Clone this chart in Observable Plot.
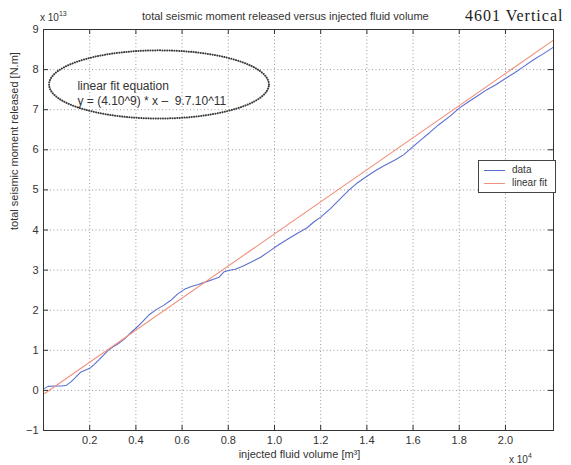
<!DOCTYPE html>
<html>
<head>
<meta charset="utf-8">
<script src="https://cdn.jsdelivr.net/npm/d3@7"></script>
<script src="https://cdn.jsdelivr.net/npm/@observablehq/plot@0.6"></script>
<style>
  html, body { margin: 0; padding: 0; background: #fff; }
  #fig { position: relative; width: 571px; height: 465px; font-family: "Liberation Sans", Arial, sans-serif; color: #333; }
  #fig svg { position: absolute; left: 0; top: 0; }
  .note { position: absolute; white-space: nowrap; line-height: 1; }
  .note sup { font-size: 7px; vertical-align: 5px; }
  #legend { position: absolute; z-index: 2; left: 478px; top: 160px; width: 76px; height: 31px; border: 1px solid #444; background: #fff; font-size: 10px; }
  #legend .row { position: absolute; left: 5px; height: 12px; line-height: 12px; }
  #legend .swatch { display: inline-block; width: 21px; height: 0; border-top: 1px solid; vertical-align: middle; margin-right: 7px; }
</style>
</head>
<body>
<div id="fig">
  <div class="note" style="left:142px; top:11px; font-size:11px;">total seismic moment released versus injected fluid volume</div>
  <div class="note" style="left:465px; top:8px; font-family:'Liberation Serif','Times New Roman',serif; font-size:16px; letter-spacing:1px; color:#222;">4601 Vertical</div>
  <div class="note" style="left:40px; top:10px; font-size:10px;">x 10<sup>13</sup></div>
  <div class="note" style="left:509px; top:452px; font-size:10px;">x 10<sup>4</sup></div>
  <div id="legend"></div>
</div>
<script>
// Injected fluid volume (x 10^4 m^3) and cumulative seismic moment (x 10^13 N.m)
const volume = [0.005, 0.02, 0.05, 0.08, 0.10, 0.12, 0.14, 0.16, 0.18, 0.20,
  0.22, 0.24, 0.26, 0.28, 0.30, 0.32, 0.35, 0.38, 0.40, 0.43,
  0.46, 0.49, 0.52, 0.55, 0.58, 0.61, 0.64, 0.67, 0.70, 0.73,
  0.76, 0.78, 0.80, 0.83, 0.86, 0.90, 0.94, 0.98, 1.02, 1.06,
  1.10, 1.14, 1.17, 1.20, 1.24, 1.28, 1.32, 1.36, 1.40, 1.44,
  1.48, 1.52, 1.56, 1.60, 1.63, 1.67, 1.71, 1.76, 1.80, 1.84,
  1.88, 1.92, 1.96, 2.00, 2.04, 2.08, 2.12, 2.16, 2.20, 2.208];
const moment = [0.05, 0.10, 0.11, 0.11, 0.13, 0.22, 0.33, 0.45, 0.50, 0.55,
  0.65, 0.76, 0.88, 1.00, 1.08, 1.15, 1.28, 1.45, 1.55, 1.72,
  1.90, 2.02, 2.12, 2.24, 2.40, 2.52, 2.59, 2.64, 2.70, 2.76,
  2.82, 2.95, 2.99, 3.02, 3.09, 3.20, 3.32, 3.48, 3.64, 3.78,
  3.92, 4.05, 4.20, 4.32, 4.52, 4.75, 4.98, 5.18, 5.34, 5.49,
  5.62, 5.74, 5.88, 6.08, 6.23, 6.42, 6.62, 6.84, 7.04, 7.20,
  7.35, 7.50, 7.63, 7.78, 7.92, 8.08, 8.24, 8.38, 8.53, 8.56];

// Linear fit: y = 4*10^9 * x - 9.7*10^11 (x in m^3, y in N.m)
const fitSlope = 4e9;
const fitIntercept = -9.7e11;
const volumeUnit = 1e4;
const momentUnit = 1e13;

const xTicks = [0.2, 0.4, 0.6, 0.8, 1, 1.2, 1.4, 1.6, 1.8, 2];
const yTicks = [-1, 0, 1, 2, 3, 4, 5, 6, 7, 8, 9];
const xDomain = [0, 2.208];
const yDomain = [-1, 9];

const equationLines = ["linear fit equation", "y = (4.10^9) * x \u2013  9.7.10^11"];
const seriesNames = ["data", "linear fit"];
const seriesColors = ["#5b6fd0", "#f2907c"];

const data = volume.map((v, i) => ({v, m: moment[i]}));
const fitAt = v => (fitSlope * v * volumeUnit + fitIntercept) / momentUnit;
const fit = [volume[0], volume[volume.length - 1]].map(v => ({v, m: fitAt(v)}));

// dotted ellipse around the equation, in data units
const ell = {cx: 0.50, cy: 7.63, rx: 0.476, ry: 0.85};
const ellipse = d3.range(0, 361, 3).map(a => ({
  v: ell.cx + ell.rx * Math.cos(a * Math.PI / 180),
  m: ell.cy + ell.ry * Math.sin(a * Math.PI / 180)
}));

const W = 571, H = 465, mL = 43, mR = 18, mT = 29, mB = 35;
const innerW = W - mL - mR, innerH = H - mT - mB, tickLen = 5;
const gridStyle = {stroke: "#9a9a9a", strokeOpacity: 1, strokeDasharray: "1,2.5", strokeWidth: 1};
const tickStyle = {stroke: "#333", strokeWidth: 1};

const chart = Plot.plot({
  width: W, height: H,
  marginLeft: mL, marginRight: mR, marginTop: mT, marginBottom: mB,
  style: {fontFamily: "'Liberation Sans', Arial, sans-serif", fontSize: "11px", color: "#333", background: "transparent"},
  x: {domain: xDomain},
  y: {domain: yDomain},
  marks: [
    Plot.gridX(xTicks, gridStyle),
    Plot.gridY(yTicks, gridStyle),
    Plot.line(data, {x: "v", y: "m", stroke: seriesColors[0], strokeWidth: 1.1}),
    Plot.line(fit, {x: "v", y: "m", stroke: seriesColors[1], strokeWidth: 1.1}),
    Plot.line(ellipse, {x: "v", y: "m", stroke: "#3a3a3a", strokeWidth: 2, strokeLinecap: "round", strokeDasharray: "0.1,2.3", curve: "linear-closed"}),
    Plot.text([equationLines[0]], {x: 0.147, y: 7.58, text: d => d, textAnchor: "start", fontSize: 12, fill: "#333"}),
    Plot.text([equationLines[1]], {x: 0.147, y: 7.22, text: d => d, textAnchor: "start", fontSize: 12, fill: "#333"}),
    Plot.frame({stroke: "#333", strokeWidth: 1}),
    // inward tick marks on all four sides
    Plot.tickX(xTicks, {x: d => d, insetTop: innerH - tickLen, ...tickStyle}),
    Plot.tickX(xTicks, {x: d => d, insetBottom: innerH - tickLen, ...tickStyle}),
    Plot.tickY(yTicks, {y: d => d, insetRight: innerW - tickLen, ...tickStyle}),
    Plot.tickY(yTicks, {y: d => d, insetLeft: innerW - tickLen, ...tickStyle}),
    Plot.axisX(xTicks, {tickSize: 0, tickPadding: 6, label: null, fontSize: 11}),
    Plot.axisY(yTicks, {tickSize: 0, tickPadding: 5, label: null, fontSize: 11, tickFormat: d => d < 0 ? "\u2212" + Math.abs(d) : String(d)}),
    Plot.text(["total seismic moment released [N.m]"], {frameAnchor: "left", dx: -29, rotate: -90, text: d => d, fontSize: 11, fill: "#333"}),
    Plot.text(["injected fluid volume [m\u00b3]"], {frameAnchor: "bottom", dy: 27, dx: 1, text: d => d, fontSize: 11, fill: "#333"})
  ]
});
document.getElementById("fig").appendChild(chart);

const legend = document.getElementById("legend");
seriesNames.forEach((name, i) => {
  const row = document.createElement("div");
  row.className = "row";
  row.style.top = (3 + i * 13) + "px";
  row.innerHTML = `<span class="swatch" style="border-color:${seriesColors[i]}"></span>${name}`;
  legend.appendChild(row);
});
</script>
</body>
</html>
